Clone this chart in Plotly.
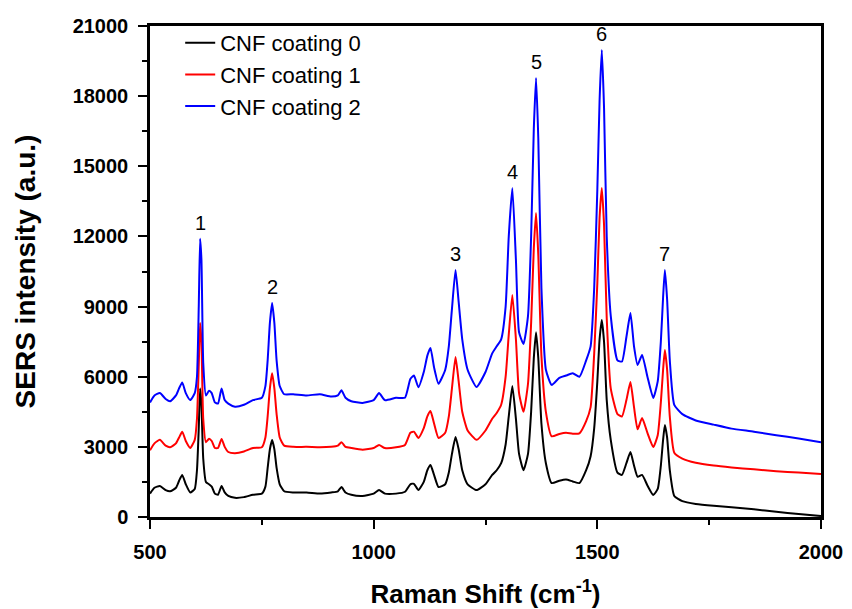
import plotly.graph_objects as go

# Raman shift grid (cm^-1), denser around the bands
shift = [
    500, 510, 522, 535, 545, 558, 565, 572, 580, 590,
    600, 605, 609, 612, 615, 619, 625, 632, 638, 645,
    652, 660, 667, 675, 690, 710, 730, 750, 758, 763,
    768, 773, 778, 783, 790, 800, 820, 850, 880, 905,
    920, 928, 937, 950, 975, 1000, 1012, 1025, 1050, 1070,
    1082, 1090, 1100, 1112, 1120, 1127, 1135, 1145, 1160, 1168,
    1175, 1183, 1190, 1198, 1210, 1230, 1250, 1265, 1275, 1285,
    1295, 1302, 1310, 1318, 1325, 1335, 1345, 1352, 1358, 1363,
    1368, 1375, 1385, 1398, 1415, 1430, 1445, 1460, 1475, 1485,
    1493, 1500, 1505, 1510, 1515, 1521, 1530, 1545, 1555, 1565,
    1574, 1582, 1590, 1600, 1612, 1625, 1635, 1642, 1647, 1651,
    1656, 1662, 1672, 1690, 1720, 1760, 1800, 1850, 1900, 1950,
    2000,
]

coating_0 = [
    1000, 1250, 1330, 1150, 1100, 1250, 1550, 1800, 1400, 1050,
    1200, 2000, 3800, 5500, 4800, 2500, 1500, 1400, 1300, 1000,
    950, 1330, 1050, 900, 820, 850, 950, 1000, 1300, 2100,
    2900, 3290, 2900, 2100, 1400, 1100, 1050, 1050, 1000, 1050,
    1100, 1280, 1050, 950, 900, 1000, 1150, 1000, 1000, 1080,
    1400, 1420, 1150, 1500, 2000, 2220, 1800, 1280, 1400, 1900,
    2700, 3420, 2900, 2000, 1400, 1150, 1400, 1800, 2000, 2300,
    3100, 4300, 5600, 4200, 2700, 2000, 2700, 4500, 6800, 7900,
    6800, 4000, 2300, 1450, 1550, 1600, 1520, 1450, 2000, 2600,
    3800, 5800, 7600, 8430, 7500, 5000, 3300, 1900, 1800, 2300,
    2780, 2200, 1720, 1800, 1350, 940, 1200, 2200, 3300, 3930,
    3400, 2000, 900, 680, 560, 480, 420, 330, 220, 130,
    40,
]

coating_1 = [
    2850, 3150, 3300, 3050, 2980, 3150, 3400, 3650, 3250, 2950,
    3300, 4200, 6500, 8300, 7500, 4200, 3200, 3350, 3250, 2950,
    2950, 3340, 3000, 2780, 2730, 2800, 2950, 2980, 3400, 4300,
    5500, 6150, 5500, 4400, 3400, 3050, 3000, 3000, 2980, 3000,
    3050, 3200, 3000, 2950, 2880, 2950, 3080, 2950, 2980, 3080,
    3600, 3650, 3380, 3800, 4300, 4530, 4000, 3380, 3600, 4300,
    5500, 6840, 5800, 4500, 3700, 3300, 3700, 4200, 4450, 4800,
    6000, 7800, 9500, 7600, 5300, 4500, 5700, 8300, 11500, 13000,
    11200, 6900, 4500, 3450, 3550, 3600, 3560, 3580, 4100, 4700,
    7000, 10000, 12800, 14070, 12500, 8500, 5500, 4400, 4300, 5000,
    5770, 4700, 3750, 4230, 3600, 2990, 3500, 4900, 6300, 7140,
    6300, 4300, 2750, 2500, 2320, 2200, 2120, 2040, 1960, 1900,
    1840,
]

coating_2 = [
    4900, 5200, 5300, 5050, 4950, 5200, 5500, 5750, 5300, 5000,
    5300, 6000, 9000, 11900, 11000, 6600, 5200, 5400, 5300, 4900,
    4850, 5500, 5000, 4850, 4720, 4800, 5000, 5100, 5600, 6700,
    8300, 9150, 8300, 6700, 5600, 5250, 5250, 5200, 5250, 5150,
    5200, 5420, 5100, 4950, 4880, 5000, 5300, 5000, 5100, 5100,
    5900, 6050, 5550, 6200, 6900, 7230, 6400, 5700, 6300, 7300,
    8900, 10560, 9200, 7600, 6300, 5560, 6200, 7000, 7300, 7600,
    9000, 12000, 14070, 11000, 7900, 7400, 8600, 12000, 16600, 18780,
    16200, 9800, 6300, 5650, 5950, 6050, 6150, 6000, 6700, 7300,
    9800, 14000, 17800, 19970, 17500, 12000, 8600, 6700, 6650, 7700,
    8720, 7300, 6500, 6930, 6000, 5090, 5800, 7500, 9400, 10560,
    9300, 6700, 4800, 4400, 4130, 3950, 3780, 3650, 3500, 3360,
    3200,
]

series_names = ["CNF coating 0", "CNF coating 1", "CNF coating 2"]
series_colors = ["#000000", "#ff0000", "#0000ff"]

# Numbered SERS bands, labelled above the top spectrum
band_labels = ["1", "2", "3", "4", "5", "6", "7"]
band_shifts = [612, 773, 1183, 1310, 1363, 1510, 1651]

y_ticks = [0, 3000, 6000, 9000, 12000, 15000, 18000, 21000]
x_ticks = [500, 1000, 1500, 2000]

fig = go.Figure()
for name, color, values in zip(series_names, series_colors,
                               [coating_0, coating_1, coating_2]):
    fig.add_trace(go.Scatter(
        x=shift, y=values, mode="lines", name=name,
        line=dict(color=color, width=2, shape="spline", smoothing=0.5),
    ))

for label, pos in zip(band_labels, band_shifts):
    idx = shift.index(pos)
    fig.add_annotation(
        x=pos, y=coating_2[idx], text=label, showarrow=False,
        yanchor="bottom", yshift=3,
        font=dict(family="Arial", size=20, color="#000000"),
    )

axis_common = dict(
    showline=True, linewidth=2.5, linecolor="#000000", mirror=True,
    showgrid=False, zeroline=False, automargin=False,
    ticks="outside", ticklen=9, tickwidth=2, tickcolor="#000000",
    tickformat="d",
    tickfont=dict(family="Arial", size=20, color="#000000", weight="bold"),
)

fig.update_xaxes(
    range=[500, 2000], tickvals=x_ticks, ticklabelstandoff=6,
    minor=dict(tickvals=[750, 1250, 1750], ticks="outside", ticklen=5,
               tickwidth=2, tickcolor="#000000"),
    title=dict(text="Raman Shift (cm<sup>-1</sup>)", standoff=25,
               font=dict(family="Arial", size=26, color="#000000",
                         weight="bold")),
    **axis_common,
)
fig.update_yaxes(
    range=[0, 21000], tickvals=y_ticks, ticklabelstandoff=6,
    minor=dict(tickvals=[1500, 4500, 7500, 10500, 13500, 16500, 19500],
               ticks="outside", ticklen=5, tickwidth=2, tickcolor="#000000"),
    title=dict(text="SERS intensity (a.u.)", standoff=29,
               font=dict(family="Arial", size=28, color="#000000",
                         weight="bold")),
    **axis_common,
)

fig.update_layout(
    width=852, height=609,
    margin=dict(l=150, r=31, t=26, b=92),
    plot_bgcolor="#ffffff", paper_bgcolor="#ffffff",
    showlegend=True,
    legend=dict(
        x=0.045, y=1.008, xanchor="left", yanchor="top",
        bgcolor="rgba(0,0,0,0)", borderwidth=0,
        font=dict(family="Arial", size=22, color="#000000"),
        itemwidth=30, tracegroupgap=0,
    ),
)

fig.write_html("out.html")
